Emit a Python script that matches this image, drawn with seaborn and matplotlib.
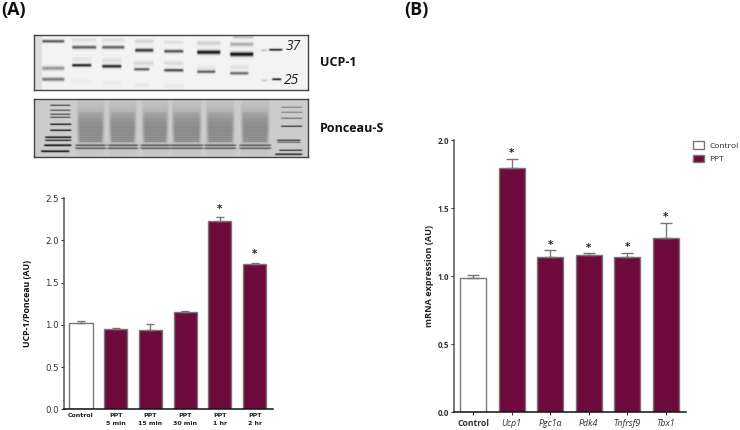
import numpy as np
import pandas as pd
import matplotlib
matplotlib.use("Agg")
import matplotlib.pyplot as plt
from matplotlib.patches import Patch
import seaborn as sns

# ---- data -------------------------------------------------------------
cat_a = ["Control", "PPT\n5 min", "PPT\n15 min", "PPT\n30 min", "PPT\n1 hr", "PPT\n2 hr"]
val_a = [1.02, 0.95, 0.935, 1.155, 2.225, 1.72]
err_a = [0.03, 0.01, 0.07, 0.012, 0.05, 0.015]
star_a = [False, False, False, False, True, True]

cat_b = ["Control", "Ucp1", "Pgc1α", "Pdk4", "Tnfrsf9", "Tbx1"]
val_b = [0.985, 1.80, 1.14, 1.16, 1.14, 1.285]
err_b = [0.022, 0.065, 0.05, 0.01, 0.035, 0.11]
star_b = [False, True, True, True, True, True]

# blot bands: x0, x1, y, darkness, thickness (in picture pixels)
ucp_bands = [
    (41, 65, 41, .65, 1.4), (41, 65, 68, .38, 2.0), (41, 65, 79, .50, 1.8),
    (71, 97, 47, .62, 1.6), (101, 125, 47, .60, 1.6), (134, 154, 50, .78, 1.7),
    (163, 184, 51, .65, 1.6), (196, 221, 52, .92, 2.0), (229, 254, 54, .95, 2.1),
    (71, 92, 65, .88, 1.4), (101, 122, 66, .85, 1.6), (133, 150, 69, .62, 1.4),
    (163, 184, 70, .72, 1.4), (196, 216, 71.5, .62, 1.4), (229, 249, 73, .58, 1.4),
    (71, 97, 40, .08, 2), (101, 125, 40, .08, 2), (134, 154, 41, .13, 2), (163, 184, 42, .08, 2),
    (196, 221, 43, .15, 2), (229, 254, 44, .28, 2), (232, 254, 37, .22, 1.2),
    (71, 92, 59, .06, 2), (101, 122, 60, .09, 2), (133, 154, 63, .12, 2), (163, 184, 63, .10, 2),
    (196, 216, 68, .06, 2), (229, 249, 67, .08, 2),
    (70, 92, 81, .03, 2), (101, 122, 83, .03, 2), (133, 150, 85, .04, 2), (163, 184, 86, .04, 2),
    (260, 268, 50, .2, 1), (260, 268, 80, .15, 1),
    (268, 283, 49.5, .9, 1.0), (271, 282, 79, .9, 1.0),
]
pon_ladder = [
    (49, 71, 105, .9, .5), (49, 71, 110, .8, .5), (49, 71, 114, .85, .5), (49, 71, 117, .85, .5),
    (49, 72, 124, 1., .7), (49, 72, 130, 1., .7), (44, 72, 137, 1., .8), (44, 72, 140, .9, .7),
    (43, 72, 145, 1., .9), (40, 70, 151, 1., .9),
    (280, 303, 107, .5, .5), (280, 303, 112, .5, .5), (280, 303, 118, .6, .5), (280, 303, 126, .9, .6),
    (276, 301, 140, .9, .6), (276, 301, 142, .7, .5), (278, 303, 150, .9, .6), (274, 303, 154, .9, .8),
]
pon_lanes = [(78, 103), (110, 135), (143, 167), (173, 200), (207, 233), (242, 268)]
pon_lane_rows = [113, 115, 117, 119, 121, 123, 125, 127, 129, 131, 133, 135, 137, 139, 141]
pon_foot_rows = [145, 148]
handwriting = [("37", 286, 47), ("25", 284, 81)]

# ---- figure -----------------------------------------------------------
sns.set_theme(style="ticks")
plt.rcParams["font.family"] = ["Open Sans", "DejaVu Sans"]
W, H = 740, 430
fig = plt.figure(figsize=(W / 100, H / 100), dpi=100, facecolor="white")
MAROON = "#6f0b3c"
EDGE = "#777777"


def axes_px(l, t, r, b):
    return fig.add_axes([l / W, 1 - b / H, (r - l) / W, (b - t) / H])


def render(x0, x1, y0, y1, bg, bands, blur=1.0):
    ys, xs = np.mgrid[y0:y1:0.5, x0:x1:0.5]
    img = np.full(xs.shape, bg, dtype=float)
    for a, b, y, d, t in bands:
        g = np.exp(-((ys - y) / (t * blur)) ** 2)
        e = np.clip((xs - a) / 2, 0, 1) * np.clip((b - xs) / 2, 0, 1)
        img -= d * g * e * bg
    return np.clip(img, 0, 1)


def blot(x0, x1, y0, y1, img):
    ax = axes_px(x0, y0, x1, y1)
    ax.imshow(img, cmap="gray", vmin=0, vmax=1, aspect="auto", extent=(x0, x1, y1, y0),
              interpolation="bilinear")
    ax.set_xticks([])
    ax.set_yticks([])
    for s in ax.spines.values():
        s.set_color("#444444")
        s.set_linewidth(1.0)
    return ax


ax1 = blot(34, 308, 35, 90, render(34, 308, 35, 90, 0.95, ucp_bands))
ax1.fill_betweenx([35, 90], 34, 42, color="#bbbbbb", alpha=.35, lw=0)
for s, x, y in handwriting:
    ax1.text(x, y, s, fontsize=10, style="italic", color="#222222", va="center", ha="left")

pon_bands = list(pon_ladder)
for a, b in pon_lanes:
    pon_bands.append((a - 2, b + 2, 125, 0.18, 20))
    for i, y in enumerate(pon_lane_rows):
        pon_bands.append((a, b, y, 0.10 + 0.012 * i, 0.8))
    for y in pon_foot_rows:
        pon_bands.append((a - 4, b + 4, y, 0.55, 0.8))
ax2 = blot(34, 308, 99, 157, render(34, 308, 99, 157, 0.80, pon_bands))

fig.text(1 / W, 1 - 10 / H, "(A)", fontsize=13, fontweight="bold", va="center", ha="left", color="#111111")
fig.text(404 / W, 1 - 10 / H, "(B)", fontsize=13, fontweight="bold", va="center", ha="left", color="#111111")
fig.text(320 / W, 1 - 63 / H, "UCP-1", fontsize=9, fontweight="bold", va="center", color="#111111")
fig.text(320 / W, 1 - 129 / H, "Ponceau-S", fontsize=9, fontweight="bold", va="center", color="#111111")


def bars(ax, cats, vals, errs, stars, ymax, step, width, bw, capsize, star_gap):
    df = pd.DataFrame({"cat": cats, "val": vals})
    pal = dict(zip(cats, ["white"] + [MAROON] * (len(cats) - 1)))
    sns.barplot(data=df, x="cat", y="val", hue="cat", palette=pal, dodge=False, legend=False,
                width=width, edgecolor=EDGE, linewidth=bw, ax=ax, errorbar=None, saturation=1)
    pos = np.arange(len(cats))
    ax.errorbar(pos, vals, yerr=[np.zeros(len(vals)), errs], fmt="none", ecolor=EDGE,
                elinewidth=1.0, capsize=capsize, capthick=1.0, zorder=1)
    for x, v, e, s in zip(pos, vals, errs, stars):
        if s:
            ax.text(x, v + e + star_gap, "*", ha="center", va="center", fontsize=7.5,
                    fontweight="bold", color="#222222", family="DejaVu Sans")
    ax.set_xlim(-0.49, 5.52)
    ax.set_ylim(0, ymax)
    ax.set_yticks(np.arange(0, ymax + 0.01, step))
    ax.set_yticklabels([f"{t:.1f}" for t in np.arange(0, ymax + 0.01, step)])
    ax.set_xlabel("")
    sns.despine(ax=ax)
    ax.patch.set_alpha(0)
    for b in ("left", "bottom"):
        ax.spines[b].set_linewidth(1.1)
    ax.spines["left"].set_color("#555555")
    ax.spines["bottom"].set_color("#111111")
    ax.tick_params(length=2.5, width=0.8, pad=1.2, color="#333333")


# panel A
axa = axes_px(64, 198, 272.7, 409.3)
bars(axa, cat_a, val_a, err_a, star_a, 2.5, 0.5, 0.665, 1.0, 2.8, 0.10)
axa.set_ylabel("UCP-1/Ponceau (AU)", fontsize=6.3, fontweight="bold", color="#111111")
axa.yaxis.set_label_coords(-0.153, 0.5)
axa.tick_params(axis="y", labelsize=6.2, labelcolor="#333333")
axa.tick_params(axis="x", length=0, pad=3.0)
for lab in axa.get_yticklabels():
    lab.set_family("DejaVu Sans")
for lab in axa.get_xticklabels():
    lab.set_family("DejaVu Sans")
    lab.set_fontsize(4.5)
    lab.set_fontweight("bold")
    lab.set_linespacing(1.6)
    lab.set_color("#222222")
    lab.set_verticalalignment("top")

# panel B
axb = axes_px(454.3, 140.3, 685.7, 412.3)
bars(axb, cat_b, val_b, err_b, star_b, 2.0, 0.5, 0.675, 1.0, 4.2, 0.04)
axb.set_ylabel("mRNA expression (AU)", fontsize=6.6, fontweight="bold", color="#222222")
axb.yaxis.set_label_coords(-0.088, 0.5)
axb.tick_params(axis="y", labelsize=5.8, labelcolor="#333333")
axb.tick_params(axis="x", labelsize=6.4, labelcolor="#333333", pad=2.5)
for lab in axb.get_yticklabels():
    lab.set_fontweight("bold")
for i, lab in enumerate(axb.get_xticklabels()):
    if i == 0:
        lab.set_fontweight("bold")
        lab.set_fontsize(6.2)
    else:
        lab.set_style("italic")

handles = [Patch(facecolor="white", edgecolor=EDGE, label="Control"),
           Patch(facecolor=MAROON, edgecolor=EDGE, label="PPT")]
fig.legend(handles=handles, loc="upper left", bbox_to_anchor=(692.7 / W, 1 - 141 / H), frameon=False,
           fontsize=6.0, handlelength=1.36, handleheight=1.05, handletextpad=0.6, labelspacing=0.6,
           borderpad=0, borderaxespad=0)

fig.savefig("out.png", dpi=100, facecolor="white")
